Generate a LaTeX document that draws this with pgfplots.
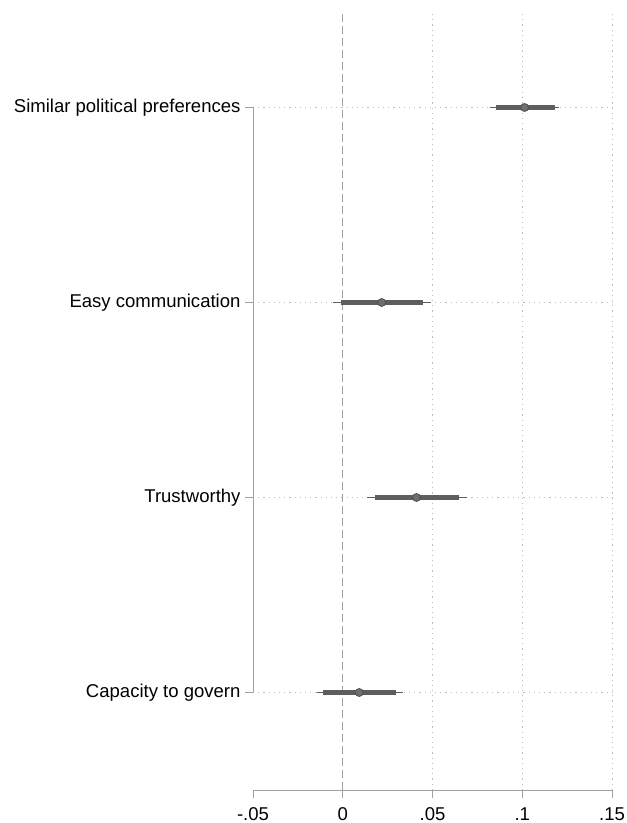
\documentclass[border=0pt]{standalone}
\usepackage{fontspec}
\setmainfont{Liberation Sans}
\usepackage{pgfplots}
\pgfplotsset{compat=1.18}
\usepackage{pgfplotstable}
\definecolor{barc}{HTML}{5E5E5E}
\definecolor{axc}{HTML}{A0A0A0}
\definecolor{gridc}{HTML}{BEBEBE}
\pgfplotstableread{
y est lo95 hi95 lo90 hi90
4 0.1013 0.0822 0.1207 0.0852 0.1180
3 0.0217 -0.0052 0.0490 -0.0009 0.0448
2 0.0411 0.0137 0.0690 0.0179 0.0646
1 0.0092 -0.0144 0.0333 -0.0108 0.0296
}\coefs
\begin{document}
\begin{tikzpicture}
\useasboundingbox (-253bp,-33bp) rectangle (374bp,790bp);
\begin{axis}[
  at={(0,0)}, anchor=south west,
  scale only axis, width=359bp, height=780bp,
  xmin=-0.05, xmax=0.15, ymin=0.5, ymax=4.5,
  clip=false,
  axis lines*=left,
  axis line style={axc, line width=0.9bp},
  y axis line style={draw=none},
  xtick={-0.05,0,0.05,0.1,0.15},
  xticklabels={-.05,0,.05,.1,.15},
  ytick={1,2,3,4},
  yticklabels={Capacity to govern, Trustworthy, Easy communication, Similar political preferences},
  tick align=outside, major tick length=8bp,
  tick style={axc, line width=0.9bp},
  ymajorgrids, grid style={gridc, dash pattern=on 1.2bp off 4bp, line width=0.9bp},
  extra x ticks={0.05,0.1,0.15}, extra x tick labels={},
  extra x tick style={grid=major, major tick length=0pt},
  tick label style={font=\fontsize{18.6}{21}\selectfont, text=black},
  yticklabel style={xshift=-1bp},
  xticklabel style={yshift=-6bp},
  /pgf/number format/assume math mode=true,
]
\draw[axc, dash pattern=on 8bp off 4bp, line width=1.2bp] (axis cs:0,0.5) -- (axis cs:0,4.5);
\draw[axc, line width=0.9bp] (axis cs:-0.05,1) -- (axis cs:-0.05,4);
\addplot[draw=none, mark=none, forget plot,
  error bars/.cd, x dir=both, x explicit, error mark=none,
  error bar style={draw=barc, line width=1.8bp, solid}]
  table[x=est, y=y, x error minus expr=\thisrow{est}-\thisrow{lo95}, x error plus expr=\thisrow{hi95}-\thisrow{est}] {\coefs};
\addplot[draw=none, mark=none, forget plot,
  error bars/.cd, x dir=both, x explicit, error mark=none,
  error bar style={draw=barc, line width=4.2bp, solid}]
  table[x=est, y=y, x error minus expr=\thisrow{est}-\thisrow{lo90}, x error plus expr=\thisrow{hi90}-\thisrow{est}] {\coefs};
\addplot[only marks, mark=*, mark size=4bp, color=barc, mark options={fill=barc!90, draw=barc!80!black, line width=0.7bp}]
  table[x=est, y=y] {\coefs};
\end{axis}
\end{tikzpicture}
\end{document}
